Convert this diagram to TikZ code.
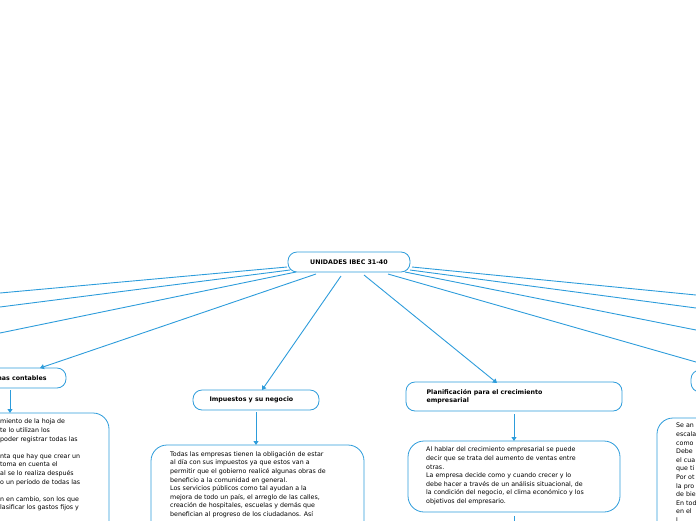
\documentclass[tikz,border=0pt]{standalone}
\usepackage{fontspec}
\setmainfont{DejaVu Sans}
\usetikzlibrary{arrows.meta}
\definecolor{bl}{HTML}{2D9CDB}
\tikzset{
 box/.style={draw=bl,line width=0.8pt,rounded corners=9pt,fill=white},
 tbox/.style={draw=bl,line width=0.8pt,rounded corners=16pt,fill=white},
 ttl/.style={font=\fontsize{6.3}{8}\selectfont\bfseries,anchor=west,align=left},
 txt/.style={font=\fontsize{6.3}{8.6}\selectfont,anchor=north west,align=left,inner sep=0pt},
 con/.style={draw=bl,line width=0.9pt},
 arr/.style={con,-{Triangle[width=5pt,length=4pt]}}
}
\begin{document}
\begin{tikzpicture}[x=1pt,y=-1pt]
\useasboundingbox (0,0) rectangle (696,520);
% connectors to edges
\coordinate (L1) at (0,293); \coordinate (L2) at (0,307); \coordinate (L3) at (0,333);
\coordinate (R1) at (696,295); \coordinate (R2) at (696,308); \coordinate (R3) at (696,330); \coordinate (R4) at (696,362);
\draw[con] (287,267) -- (L1);
\draw[con] (290,270) -- (L2);
\draw[con] (296,272) -- (L3);
\draw[con] (412,267) -- (R1);
\draw[con] (410,270) -- (R2);
\draw[con] (405,272) -- (R3);
\draw[con] (388,274) -- (R4);
% boxes
\draw[box] (288,252) rectangle (410,272);
\node[font=\fontsize{6.3}{8}\selectfont\bfseries] (root) at (349,262) {UNIDADES IBEC 31-40};
\draw[box] (-60,368) rectangle (66,388);
\node[ttl] (c1) at (-26,378) {Sistemas contables};
\draw[box] (193,390) rectangle (319,410);
\node[ttl] (c2) at (206,400) {Impuestos y su negocio};
\draw[box] (406,382) rectangle (622,411);
\node[ttl] (c3) at (423,396.5) {Planificación para el crecimiento\\empresarial};
\draw[box] (691,370) rectangle (800,392);
% arrows
\draw[arr] (316,274) -- (40,368);
\draw[arr] (341,276) -- (262,390);
\draw[arr] (364,275) -- (497,383);
\draw[arr] (10,390) -- (10,413);
\draw[arr] (256,412) -- (256,445);
\draw[arr] (514,414) -- (514,441);
\draw[con] (514,516) -- (514,530);
% text boxes
\draw[tbox] (-100,413) rectangle (109,560);
\node[txt] (t1) at (0,419) {miento de la hoja de\\te lo utilizan los\\poder registrar todas las\\[8.6pt]nta que hay que crear un\\toma en cuenta el\\al se lo realiza después\\o un período de todas las\\[8.6pt]n en cambio, son los que\\lasificar los gastos fijos y};
\draw[tbox] (151,445) rectangle (364,560);
\node[txt] (t2) at (170,451) {Todas las empresas tienen la obligación de estar\\al día con sus impuestos ya que estos van a\\permitir que el gobierno realicé algunas obras de\\beneficio a la comunidad en general.\\Los servicios públicos como tal ayudan a la\\mejora de todo un país, el arreglo de las calles,\\creación de hospitales, escuelas y demás que\\benefician al progreso de los ciudadanos. Así};
\draw[tbox] (408,441) rectangle (620,512);
\node[txt] (t3) at (426,447) {Al hablar del crecimiento empresarial se puede\\decir que se trata del aumento de ventas entre\\otras.\\La empresa decide como y cuando crecer y lo\\debe hacer a través de un análisis situacional, de\\la condición del negocio, el clima económico y los\\objetivos del empresario.};
\draw[tbox] (657,418) rectangle (800,560);
\node[txt] (t4) at (676,423) {Se an\\escala\\como\\Debe\\el cua\\que ti\\Por ot\\la pro\\de bie\\En tod\\en el\\l};
\end{tikzpicture}
\end{document}
